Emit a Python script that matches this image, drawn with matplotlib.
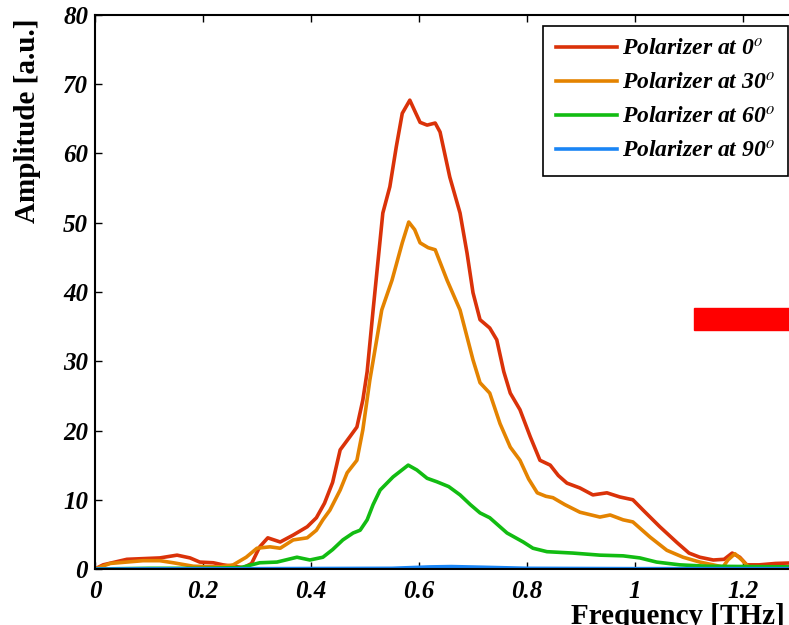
import numpy as np
import matplotlib
matplotlib.use('Agg')
import matplotlib.pyplot as plt
from matplotlib.patches import Rectangle

plt.rcParams['font.family'] = ['Liberation Serif', 'DejaVu Serif']
plt.rcParams['mathtext.fontset'] = 'stix'

# -----------------------------------------------------------------------------
# Data
# -----------------------------------------------------------------------------
freq_0 = [0.0, 0.015, 0.059, 0.12, 0.152, 0.176, 0.194, 0.219, 0.237, 0.256,
          0.275, 0.29, 0.305, 0.32, 0.343, 0.367, 0.393, 0.41, 0.425, 0.44,
          0.454, 0.472, 0.485, 0.496, 0.504, 0.515, 0.533, 0.546, 0.558, 0.569,
          0.583, 0.593, 0.602, 0.615, 0.63, 0.639, 0.657, 0.676, 0.689, 0.70,
          0.713, 0.731, 0.744, 0.757, 0.769, 0.787, 0.806, 0.824, 0.843, 0.858,
          0.874, 0.898, 0.922, 0.948, 0.972, 0.996, 1.015, 1.046, 1.078, 1.10,
          1.12, 1.145, 1.165, 1.18, 1.194, 1.207, 1.23, 1.26, 1.3]
amp_0 = [0.0, 0.6, 1.4, 1.6, 2.0, 1.6, 1.0, 0.9, 0.6, 0.4,
         0.2, 0.8, 3.2, 4.5, 3.9, 4.9, 6.1, 7.4, 9.5, 12.5,
         17.2, 19.1, 20.5, 24.4, 28.5, 37.4, 51.4, 55.2, 61.0, 65.8,
         67.7, 66.0, 64.5, 64.1, 64.4, 63.1, 56.6, 51.4, 45.6, 39.9,
         36.0, 34.8, 33.1, 28.5, 25.4, 23.0, 19.1, 15.7, 15.0, 13.5,
         12.4, 11.7, 10.7, 11.0, 10.4, 10.0, 8.5, 6.1, 3.8, 2.3,
         1.7, 1.3, 1.4, 2.3, 1.7, 0.6, 0.6, 0.8, 0.9]

freq_30 = [0.0, 0.028, 0.089, 0.12, 0.145, 0.182, 0.231, 0.256, 0.28, 0.30,
           0.324, 0.343, 0.367, 0.393, 0.41, 0.422, 0.435, 0.454, 0.467, 0.485,
           0.496, 0.509, 0.531, 0.55, 0.569, 0.581, 0.592, 0.602, 0.617, 0.63,
           0.652, 0.676, 0.70, 0.713, 0.731, 0.75, 0.769, 0.787, 0.803, 0.819,
           0.835, 0.848, 0.87, 0.898, 0.935, 0.954, 0.978, 0.996, 1.028, 1.059,
           1.089, 1.12, 1.163, 1.172, 1.185, 1.198, 1.21, 1.3]
amp_30 = [0.0, 0.8, 1.2, 1.2, 0.9, 0.4, 0.3, 0.6, 1.7, 3.0,
          3.2, 3.0, 4.2, 4.5, 5.6, 7.1, 8.5, 11.4, 13.9, 15.7,
          20.1, 27.3, 37.4, 41.7, 47.1, 50.1, 49.0, 47.1, 46.4, 46.1,
          41.7, 37.4, 30.2, 26.9, 25.4, 21.0, 17.6, 15.7, 13.0, 11.0,
          10.5, 10.3, 9.3, 8.2, 7.5, 7.8, 7.1, 6.8, 4.6, 2.7,
          1.7, 1.0, 0.3, 1.3, 2.2, 1.3, 0.3, 0.3]

freq_60 = [0.0, 0.1, 0.2, 0.27, 0.305, 0.337, 0.374, 0.398, 0.422, 0.44,
           0.459, 0.478, 0.491, 0.504, 0.515, 0.528, 0.552, 0.58, 0.596, 0.615,
           0.633, 0.655, 0.676, 0.695, 0.713, 0.731, 0.763, 0.793, 0.811, 0.837,
           0.885, 0.935, 0.978, 1.009, 1.04, 1.083, 1.133, 1.3]
amp_60 = [0.0, 0.1, 0.1, 0.2, 0.9, 1.0, 1.7, 1.3, 1.7, 2.8,
          4.2, 5.2, 5.6, 7.1, 9.3, 11.4, 13.3, 15.0, 14.3, 13.1,
          12.6, 11.9, 10.7, 9.3, 8.1, 7.4, 5.2, 3.9, 3.0, 2.5,
          2.3, 2.0, 1.9, 1.6, 1.0, 0.6, 0.4, 0.3]

freq_90 = [0.0, 0.3, 0.55, 0.62, 0.66, 0.72, 0.8, 1.0, 1.3]
amp_90 = [0.0, 0.05, 0.1, 0.3, 0.35, 0.25, 0.1, 0.05, 0.05]

labels = [r'Polarizer at 0$^\mathit{o}$', r'Polarizer at 30$^\mathit{o}$',
          r'Polarizer at 60$^\mathit{o}$', r'Polarizer at 90$^\mathit{o}$']
colors = ['#DA3209', '#E48300', '#12BC12', '#1A85F5']

x_ticks = [0, 0.2, 0.4, 0.6, 0.8, 1.0, 1.2]
x_ticklabels = ['0', '0.2', '0.4', '0.6', '0.8', '1', '1.2']
y_ticks = [0, 10, 20, 30, 40, 50, 60, 70, 80]

# red marker block on the right
block_x0, block_y0, block_w, block_h = 1.109, 34.5, 0.25, 3.2

# -----------------------------------------------------------------------------
# Plot
# -----------------------------------------------------------------------------
fig = plt.figure(figsize=(7.89, 6.25), dpi=100)
ax = fig.add_axes([95 / 789, 56 / 625, 702 / 789, 554 / 625])

series = [(freq_0, amp_0), (freq_30, amp_30), (freq_60, amp_60), (freq_90, amp_90)]
for (f, a), lab, c in zip(series, labels, colors):
    ax.plot(f, a, color=c, lw=2.6, label=lab, solid_joinstyle='round')

ax.add_patch(Rectangle((block_x0, block_y0), block_w, block_h, color='#FF0000',
                       clip_on=True, zorder=3))

ax.set_xlim(0, 1.3)
ax.set_ylim(0, 80)
ax.set_xticks(x_ticks)
ax.set_xticklabels(x_ticklabels)
ax.set_yticks(y_ticks)
ax.tick_params(direction='in', length=5, width=1, top=True, right=True,
               labelsize=18)
ax.tick_params(axis='x', pad=8)
ax.tick_params(axis='y', pad=5)
for lab in ax.get_xticklabels() + ax.get_yticklabels():
    lab.set_fontweight('bold')
    lab.set_fontstyle('italic')
for sp in ax.spines.values():
    sp.set_linewidth(1.5)

fig.text(28 / 789, 1 - 121 / 625, 'Amplitude [a.u.]', rotation=90, fontsize=21,
         fontweight='bold', ha='center', va='center')
fig.text(678 / 789, 1 - 603 / 625, 'Frequency [THz]', fontsize=21,
         fontweight='bold', ha='center', va='top')

leg = ax.legend(loc='upper right', bbox_to_anchor=(0.987, 0.980), fancybox=False,
                framealpha=1, edgecolor='black', handlelength=2.6, labelspacing=0.53,
                borderpad=0.55, handletextpad=0.2, borderaxespad=0,
                prop={'family': 'Liberation Serif', 'weight': 'bold',
                      'style': 'italic', 'size': 17})
leg.get_frame().set_linewidth(1.2)

fig.savefig('out.png', dpi=100)
